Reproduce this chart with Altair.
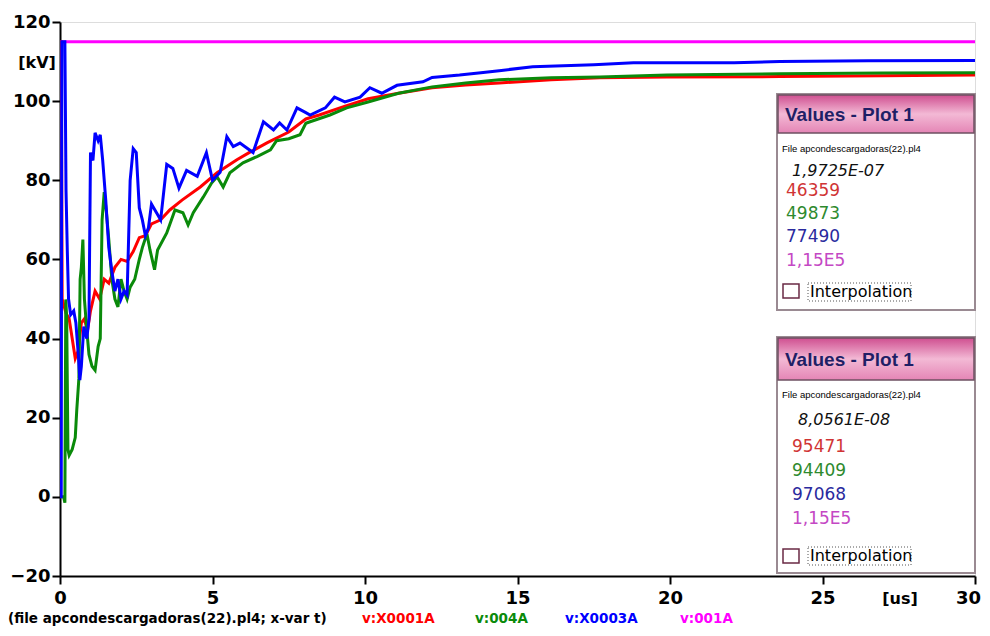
import altair as alt
import pandas as pd

# ---- data (time in us, voltage in kV) ----
t_red = [0, 0.01, 0.04, 0.07, 0.197, 0.3, 0.4, 0.5, 0.6, 0.7, 0.8, 0.9, 1.0, 1.15, 1.3, 1.45, 1.6, 1.8, 2.0, 2.2,
         2.4, 2.6, 2.8, 3.0, 3.3, 3.6, 4.0, 4.6, 5.15, 5.8, 6.2, 6.8, 7.5, 8.06, 8.5, 9.3, 10.1, 11.1, 12.2, 13.3,
         14.4, 16.1, 17.7, 19.9, 23.6, 27.0, 30.0]
v_red = [5, 115, 115, 50, 46.4, 45, 40, 35, 37, 44, 45, 42, 47, 52, 50, 55, 54, 58, 60, 59.5,
         62, 65.5, 66, 69, 70, 72.5, 75, 78.3, 81.9, 85.2, 87, 89.5, 92.2, 95.5, 96.5, 98.6, 100.6, 102, 103.4, 104.1,
         104.6, 105.4, 105.9, 106.1, 106.2, 106.4, 106.6]

t_green = [0, 0.12, 0.16, 0.19, 0.22, 0.26, 0.3, 0.4, 0.5, 0.55, 0.62, 0.66, 0.7, 0.75, 0.8, 0.88, 0.95, 1.05, 1.15,
           1.25, 1.32, 1.38, 1.45, 1.52, 1.6, 1.7, 1.8, 1.9, 2.0, 2.1, 2.2, 2.3, 2.45, 2.6, 2.7, 2.85, 2.95, 3.1, 3.2,
           3.5, 3.77, 4.03, 4.2, 4.37, 4.7, 4.97, 5.15, 5.35, 5.57, 6.0, 6.46, 6.9, 7.1, 7.5, 7.87, 8.06, 8.2, 8.85,
           9.4, 10.1, 11.1, 12.2, 13.3, 14.4, 16.1, 17.7, 19.9, 23.6, 27.0, 30.0]
v_green = [0, 0, -1.5, 49.9, 45, 12, 10.5, 12, 15, 22, 30, 55, 58, 65, 50, 42, 36, 33, 32,
           38, 40, 70, 77, 72, 65, 55, 50, 48, 55, 52, 50, 53, 55, 60, 63, 66.5, 62.4, 57.4, 62.4,
           66.7, 72.5, 71.8, 68.7, 71.8, 75.8, 79.3, 80.9, 78.3, 81.9, 84.4, 86, 87.7, 90, 90.5, 91.5, 94.4, 94.8, 96.5,
           98.3, 99.8, 102, 103.6, 104.6, 105.4, 105.9, 106.1, 106.6, 106.9, 107.1, 107.2]

t_blue = [0, 0.04, 0.06, 0.16, 0.197, 0.24, 0.28, 0.35, 0.45, 0.52, 0.6, 0.65, 0.7, 0.78, 0.88, 0.95, 1.0, 1.08,
          1.15, 1.25, 1.32, 1.4, 1.5, 1.6, 1.7, 1.8, 1.9, 2.0, 2.1, 2.2, 2.3, 2.4, 2.5, 2.6, 2.7, 2.8, 2.9, 3.0,
          3.15, 3.3, 3.5, 3.7, 3.9, 4.15, 4.5, 4.8, 5.0, 5.25, 5.47, 5.68, 5.9, 6.33, 6.67, 7.0, 7.2, 7.44, 7.77,
          8.06, 8.2, 8.7, 9.0, 9.34, 9.84, 10.16, 10.55, 11.05, 11.9, 12.2, 13.1, 13.8, 14.4, 15.5, 17.5, 18.8,
          22.1, 23.6, 26.5, 30.0]
v_blue = [0, 0, 115, 115, 77.5, 62, 50, 46, 47, 44, 36, 29.5, 33, 43, 40, 45, 87, 85,
          92, 90, 91.5, 85, 75, 63, 57, 52, 55, 50, 52, 51, 80, 88, 87, 73, 70, 66, 68, 74,
          72, 70, 84, 83, 78, 82.5, 81, 87, 80, 82, 91, 88.5, 89.4, 87, 94.8, 92.7, 94.5, 92.7, 98.3,
          97.1, 96.5, 98.3, 101, 99.8, 101, 103.4, 102, 104, 104.9, 106, 106.6, 107.2, 107.7, 108.7, 109.2, 109.7,
          109.7, 110, 110.2, 110.3]

t_mag = [0, 30.0]
v_mag = [115, 115]

series_names = ["v:X0001A", "v:004A", "v:X0003A", "v:001A"]
series_colors = ["#ff0000", "#0a8a0a", "#0000ff", "#ff00ff"]

x_ticks = [0, 5, 10, 15, 20, 25, 30]
y_ticks = [-20, 0, 20, 40, 60, 80, 100, 120]

panel1_values = ["1,9725E-07", "46359", "49873", "77490", "1,15E5"]
panel2_values = ["8,0561E-08", "95471", "94409", "97068", "1,15E5"]
panel_value_colors = ["#111111", "#d03434", "#2e8a2e", "#2a2a9e", "#c448c4"]

W, H = 915, 554

xs = alt.Scale(domain=[0, 30], nice=False, zero=False)
ys = alt.Scale(domain=[-20, 120], nice=False, zero=False)

axis_common = dict(
    labelFont="DejaVu Sans", labelFontWeight="bold", labelFontSize=18, labelColor="black",
    tickColor="black", tickWidth=2, tickSize=8, domainColor="black", domainWidth=2,
    grid=False, title=None, labelOverlap=False, labelFlush=False,
)
# last x label (30) is drawn separately so that it is not cut by the page edge
xaxis = alt.Axis(values=x_ticks, labelPadding=5,
                 labelExpr="datum.value == 30 ? '' : datum.label", **axis_common)
yaxis = alt.Axis(values=y_ticks, labelPadding=2, **axis_common)


def line_layer(t, v, color):
    df = pd.DataFrame({"t": t, "v": v, "i": list(range(len(t)))})
    return alt.Chart(df).mark_line(color=color, strokeWidth=3, clip=True).encode(
        x=alt.X("t:Q", scale=xs, axis=xaxis),
        y=alt.Y("v:Q", scale=ys, axis=yaxis),
        order=alt.Order("i:Q"),
    )


one = pd.DataFrame({"k": [0]})


def rect(x, x2, y, y2, **kw):
    return alt.Chart(one).mark_rect(**kw).encode(
        x=alt.value(x), x2=alt.value(x2), y=alt.value(y), y2=alt.value(y2))


def text(s, x, y, **kw):
    kw.setdefault("align", "left")
    kw.setdefault("baseline", "middle")
    return alt.Chart(one).mark_text(**kw).encode(
        x=alt.value(x), y=alt.value(y), text=alt.value(s))


header_grad = alt.LinearGradient(
    gradient="linear", x1=0, x2=0, y1=0, y2=1,
    stops=[alt.GradientStop(color="#cf4f90", offset=0),
           alt.GradientStop(color="#f3b9d5", offset=0.5),
           alt.GradientStop(color="#e485b5", offset=1)])


def panel(top, bottom, hdr_bottom, values, ys_rows, file_y, num_x, chk, interp_y):
    layers = [
        rect(717, 915, top, bottom, fill="white", stroke="#9a8a92", strokeWidth=2),
        rect(718, 914, top + 1, hdr_bottom, fill=header_grad, stroke="#6e5062", strokeWidth=1.5),
        text("Values - Plot 1", 725, (top + hdr_bottom) / 2 + 1, font="Liberation Sans",
             fontWeight="bold", fontSize=19, color="#1f1f66"),
        text("File apcondescargadoras(22).pl4", 722, file_y, font="Liberation Sans",
             fontSize=9.5, color="black"),
    ]
    for i, (val, yy) in enumerate(zip(values, ys_rows)):
        kw = dict(font="DejaVu Sans", fontSize=17 if i else 16, color=panel_value_colors[i])
        if i == 0:
            kw["fontStyle"] = "italic"
        layers.append(text(val, num_x + (6 if i == 0 else 0), yy, **kw))
    layers += [
        rect(723, 739, chk - 7, chk + 7, fill="white", stroke="#6a2a44", strokeWidth=1.5),
        rect(748, 851, interp_y - 9, interp_y + 9, fill="white", fillOpacity=0, stroke="#555555",
             strokeWidth=1, strokeDash=[1, 2]),
        text("Interpolation", 750, interp_y, font="DejaVu Sans", fontSize=16, color="black"),
    ]
    return layers


lines = [line_layer(t_mag, v_mag, series_colors[3]),
         line_layer(t_red, v_red, series_colors[0]),
         line_layer(t_green, v_green, series_colors[1]),
         line_layer(t_blue, v_blue, series_colors[2])]

p1 = panel(72, 288, 111, panel1_values, [149, 169, 192, 214.5, 239], 127, 726, 269, 270)
p2 = panel(315, 551, 358, panel2_values, [398, 424.5, 449, 473, 497], 373, 732, 534, 534)

BOTTOM_Y = 597
labels = [
    text("[kV]", -23, 41, align="center", font="DejaVu Sans", fontWeight="bold", fontSize=16, color="black"),
    text("[us]", 840, 577, align="center", font="DejaVu Sans", fontWeight="bold", fontSize=16, color="black"),
    text("30", 921, 577, align="right", font="DejaVu Sans", fontWeight="bold", fontSize=18, color="black"),
    text("(file apcondescargadoras(22).pl4; x-var t)", -52, BOTTOM_Y, font="DejaVu Sans", fontWeight="bold",
         fontSize=13.5, color="black"),
]
leg_x = [302, 415, 505, 620]
for name, col, lx in zip(series_names, series_colors, leg_x):
    labels.append(text(name, lx, BOTTOM_Y, font="DejaVu Sans", fontWeight="bold", fontSize=13.5, color=col))

chart = alt.layer(*lines, *p1, *p2, *labels).properties(
    width=W, height=H, autosize="none",
    padding={"left": 52, "top": 14, "right": 7, "bottom": 50},
).configure_view(stroke="black", strokeWidth=3).configure(background="white")

chart.save("out.html", embed_options={"renderer": "svg", "actions": False})
